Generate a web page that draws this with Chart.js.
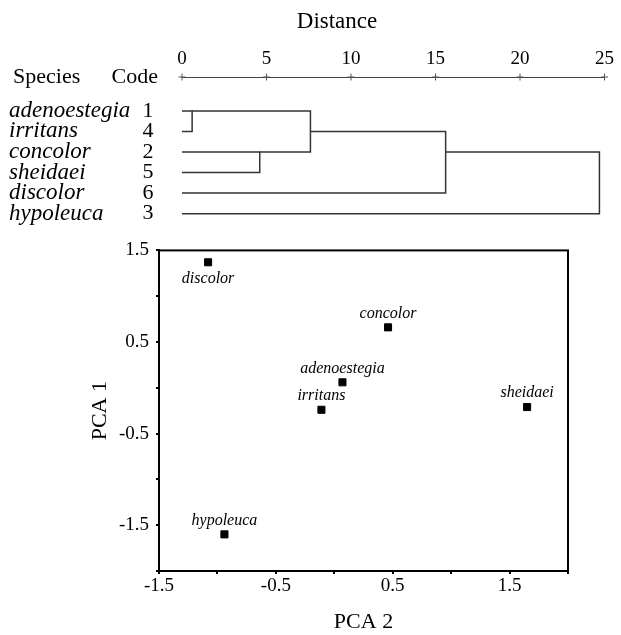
<!DOCTYPE html>
<html>
<head>
<meta charset="utf-8">
<script src="https://cdn.jsdelivr.net/npm/chart.js@4.4.0/dist/chart.umd.min.js"></script>
<style>
  body { margin: 0; background: #fff; }
  #wrap { position: relative; width: 621px; height: 635px; }
  canvas { position: absolute; left: 0; }
  #dendro { top: 0; }
  #pca { top: 232px; }
</style>
</head>
<body>
<div id="wrap">
  <canvas id="dendro" width="621" height="232"></canvas>
  <canvas id="pca" width="621" height="403"></canvas>
</div>
<script>
// dendrogram data, rows top to bottom
var species = ['adenoestegia', 'irritans', 'concolor', 'sheidaei', 'discolor', 'hypoleuca'];
var codes = ['1', '4', '2', '5', '6', '3'];
var distTicks = [0, 5, 10, 15, 20, 25];
// cluster ids: 0-5 are the rows, 6.. are made by the merges in order
var mergeLeft = [0, 2, 6, 8, 9];
var mergeRight = [1, 3, 7, 4, 5];
var mergeDist = [0.6, 4.6, 7.6, 15.6, 24.7];
var mergeRow = [1, 3, 2, 3, 3];

// PCA scores
var pcaNames = ['adenoestegia', 'concolor', 'hypoleuca', 'irritans', 'sheidaei', 'discolor'];
var pca2 = [0.07, 0.46, -0.94, -0.11, 1.65, -1.08];
var pca1 = [0.06, 0.66, -1.60, -0.24, -0.21, 1.37];

var serif = "'Liberation Serif', 'Times New Roman', serif";
var hitam = '#000';
var garis = '#333';
var rowTop = -0.65;

// build the branches
var nodeRow = species.map(function (s, i) { return i + 1; });
var nodeDist = species.map(function () { return 0; });
var branches = [];
for (var i = 0; i < mergeDist.length; i++) {
  var a = mergeLeft[i], b = mergeRight[i], d = mergeDist[i];
  branches.push({
    data: [
      { x: nodeDist[a], y: nodeRow[a] },
      { x: d, y: nodeRow[a] },
      { x: d, y: nodeRow[b] },
      { x: nodeDist[b], y: nodeRow[b] }
    ],
    showLine: true,
    borderColor: garis,
    borderWidth: 1.5,
    pointRadius: 0,
    tension: 0
  });
  nodeRow.push(mergeRow[i]);
  nodeDist.push(d);
}

// "+" marks on the distance ruler
branches.push({
  data: distTicks.map(function (t) { return { x: t, y: rowTop }; }),
  showLine: false,
  pointStyle: 'cross',
  pointRadius: 3.5,
  borderColor: '#555',
  borderWidth: 1,
  clip: false
});

var dendroLabels = {
  id: 'dendroLabels',
  afterDraw: function (chart) {
    var ctx = chart.ctx;
    var y = chart.scales.y;
    ctx.save();
    ctx.fillStyle = hitam;
    ctx.textBaseline = 'middle';
    ctx.font = '23px ' + serif;
    ctx.textAlign = 'center';
    ctx.fillText('Distance', 337, 22);
    ctx.font = '22px ' + serif;
    ctx.textAlign = 'left';
    ctx.fillText('Species', 13, y.getPixelForValue(rowTop));
    ctx.textAlign = 'right';
    ctx.fillText('Code', 158, y.getPixelForValue(rowTop));
    species.forEach(function (s, i) {
      var py = y.getPixelForValue(i + 1);
      ctx.font = 'italic 23px ' + serif;
      ctx.textAlign = 'left';
      ctx.fillText(s, 9, py);
      ctx.font = '22px ' + serif;
      ctx.textAlign = 'center';
      ctx.fillText(codes[i], 148, py);
    });
    ctx.restore();
  }
};

new Chart(document.getElementById('dendro'), {
  type: 'scatter',
  data: { datasets: branches },
  options: {
    responsive: false,
    animation: false,
    layout: { padding: { left: 182, right: 12, top: 0, bottom: 0 } },
    plugins: { legend: { display: false }, tooltip: { enabled: false } },
    scales: {
      x: {
        type: 'linear',
        position: 'top',
        min: 0,
        max: 25,
        ticks: { stepSize: 5, color: hitam, padding: 7, font: { family: serif, size: 19 } },
        grid: { display: true, drawOnChartArea: false, drawTicks: false },
        border: { display: true, color: '#444', width: 1, dash: [4, 2] },
        afterFit: function (s) { s.height = 77; }
      },
      y: {
        type: 'linear',
        display: false,
        reverse: true,
        min: rowTop,
        max: 6.65
      }
    }
  },
  plugins: [dendroLabels]
});

// scatter
var points = pcaNames.map(function (n, i) { return { x: pca2[i], y: pca1[i] }; });

function halfLabel(v) {
  var k = Math.round(v * 2);
  return k % 2 !== 0 ? v.toFixed(1) : '';
}

var pointLabels = {
  id: 'pointLabels',
  afterDatasetsDraw: function (chart) {
    var ctx = chart.ctx;
    var pts = chart.getDatasetMeta(0).data;
    ctx.save();
    ctx.font = 'italic 16px ' + serif;
    ctx.fillStyle = hitam;
    ctx.textAlign = 'center';
    ctx.textBaseline = 'middle';
    pts.forEach(function (p, i) {
      var below = pcaNames[i] === 'discolor';
      ctx.fillText(pcaNames[i], p.x, below ? p.y + 16 : p.y - 14);
    });
    ctx.restore();
  }
};

var frame = {
  id: 'frame',
  afterDraw: function (chart) {
    var a = chart.chartArea, ctx = chart.ctx;
    ctx.save();
    ctx.strokeStyle = hitam;
    ctx.lineWidth = 2;
    ctx.strokeRect(a.left, a.top, a.right - a.left, a.bottom - a.top);
    ctx.restore();
  }
};

new Chart(document.getElementById('pca'), {
  type: 'scatter',
  data: {
    datasets: [{
      data: points,
      pointStyle: 'rect',
      pointRadius: 5,
      backgroundColor: hitam,
      borderColor: hitam,
      borderWidth: 1
    }]
  },
  options: {
    responsive: false,
    animation: false,
    layout: { padding: { left: 0, right: 53, top: 18, bottom: 0 } },
    plugins: { legend: { display: false }, tooltip: { enabled: false } },
    scales: {
      x: {
        type: 'linear',
        min: -1.5,
        max: 2,
        ticks: { stepSize: 0.5, color: hitam, padding: 1, font: { family: serif, size: 19 }, callback: halfLabel },
        grid: { drawOnChartArea: false, drawTicks: true, tickLength: 3, color: hitam, lineWidth: 2 },
        border: { color: hitam, width: 2 },
        title: { display: true, text: 'PCA 2', color: hitam, font: { family: serif, size: 22 }, padding: { top: 0, bottom: 0 } },
        afterFit: function (s) { s.height = 64; }
      },
      y: {
        type: 'linear',
        min: -2,
        max: 1.5,
        ticks: { stepSize: 0.5, color: hitam, padding: 7, font: { family: serif, size: 19 }, callback: halfLabel },
        grid: { drawOnChartArea: false, drawTicks: true, tickLength: 3, color: hitam, lineWidth: 2 },
        border: { color: hitam, width: 2 },
        title: { display: true, text: 'PCA 1', color: hitam, font: { family: serif, size: 22 }, padding: { top: 87, bottom: 0 } },
        afterFit: function (s) { s.width = 159; }
      }
    }
  },
  plugins: [pointLabels, frame]
});
</script>
</body>
</html>
